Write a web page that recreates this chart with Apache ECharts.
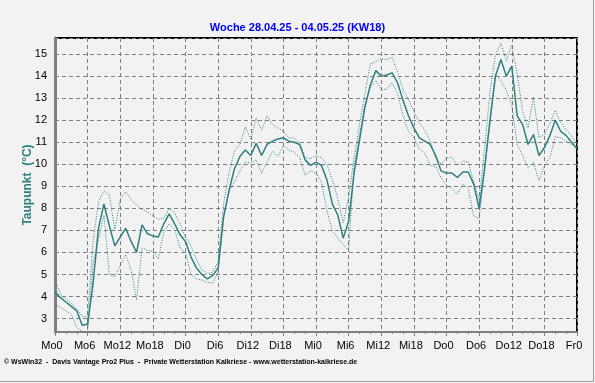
<!DOCTYPE html>
<html>
<head>
<meta charset="utf-8">
<script src="https://cdn.jsdelivr.net/npm/echarts@6/dist/echarts.min.js"></script>
<style>
html,body{margin:0;padding:0;background:#f2f2f2;}
#chart{width:595px;height:383px;}
</style>
</head>
<body>
<div id="chart"></div>
<script>
var titleText = 'Woche 28.04.25 - 04.05.25 (KW18)';
var yAxisName = 'Taupunkt  (°C)';
var footerText = '© WsWin32  -  Davis Vantage Pro2 Plus  -  Private Wetterstation Kalkriese - www.wetterstation-kalkriese.de';
var tickLabels = ['Mo0','Mo6','Mo12','Mo18','Di0','Di6','Di12','Di18','Mi0','Mi6','Mi12','Mi18','Do0','Do6','Do12','Do18','Fr0'];

// hourly values, Mo 0:00 .. Fr 0:00
var avgValues = [4.2,3.95,3.75,3.55,3.35,2.7,2.75,4.6,7.1,8.2,7.2,6.3,6.7,7.1,6.5,6.0,7.25,6.85,6.75,6.7,7.3,7.75,7.3,6.8,
  6.5,5.8,5.3,5.0,4.8,4.95,5.3,7.6,8.8,9.8,10.35,10.65,10.4,10.95,10.4,10.9,11.05,11.15,11.2,11.05,11.0,10.9,10.2,9.95,
  10.1,9.95,9.3,8.2,7.7,6.65,7.4,9.6,11.1,12.6,13.6,14.25,14.0,14.05,14.15,13.7,12.9,12.2,11.65,11.2,11.05,10.9,10.4,9.7,
  9.6,9.6,9.4,9.65,9.65,9.1,8.0,9.8,12.0,14.0,14.75,14.0,14.45,12.2,11.8,10.9,11.35,10.4,10.75,11.3,12.0,11.5,11.3,11.0,10.7];
var maxValues = [4.8,4.1,3.9,3.7,3.45,3.1,3.1,6.5,8.3,8.8,8.6,7.0,8.4,8.75,8.4,8.15,7.95,7.85,7.65,7.5,7.55,8.0,7.8,7.3,
  6.7,6.3,5.7,5.2,5.05,5.1,5.6,8.2,9.6,10.6,10.9,11.7,11.15,12.1,11.55,12.2,11.8,11.65,11.5,11.2,11.2,10.95,10.3,10.25,
  10.4,10.3,10.0,9.3,8.45,7.35,8.5,10.3,11.8,13.2,14.55,14.65,14.8,14.75,14.85,14.2,13.4,12.95,12.4,11.9,11.55,11.05,10.3,10.0,
  10.3,10.3,9.95,10.15,10.1,9.2,8.4,10.7,13.3,14.95,15.5,14.7,15.4,14.1,12.4,11.65,13.05,11.2,11.35,11.85,12.45,11.9,11.55,11.3,10.9];
var minValues = [3.65,3.5,3.35,3.2,2.6,2.4,2.4,5.5,6.6,7.7,5.0,4.9,5.4,5.9,5.2,3.85,6.2,6.1,6.05,5.7,6.9,7.3,7.05,6.2,
  6.0,5.0,4.8,4.75,4.65,4.6,5.1,7.6,8.8,9.2,9.7,10.1,10.05,10.2,9.6,10.1,10.6,10.35,10.85,10.65,10.55,10.3,9.5,9.7,
  9.6,9.2,7.9,7.0,6.65,6.35,6.1,9.9,11.3,12.7,13.5,13.8,13.4,13.4,13.7,13.2,12.2,11.5,11.2,10.7,10.5,9.95,9.9,9.4,
  9.05,8.9,8.65,9.1,8.9,7.65,7.55,9.7,11.9,14.1,13.8,13.35,12.7,10.9,10.4,9.85,10.1,9.25,9.95,10.3,11.25,11.2,11.05,10.9,10.75];

function pairs(arr){ return arr.map(function(v,i){ return [i, v]; }); }

var teal = '#2f8080';
var gridDash = [4,3];
var chart = echarts.init(document.getElementById('chart'), null, {renderer:'canvas'});
chart.setOption({
  backgroundColor:'#f2f2f2',
  animation:false,
  title:{
    text:titleText, left:'center', top:17,
    textStyle:{color:'#0000ff', fontSize:11, fontWeight:'bold', fontFamily:'Liberation Sans'}
  },
  grid:{left:55, right:18, top:38, bottom:51, show:true, borderColor:'#000', borderWidth:2, backgroundColor:'transparent'},
  xAxis:{
    type:'value', min:0, max:96, interval:6,
    axisLine:{show:true, onZero:false, lineStyle:{color:'#808080', width:2}},
    axisTick:{show:true, length:4, lineStyle:{color:'#808080'}},
    minorTick:{show:true, splitNumber:3, length:2, lineStyle:{color:'#808080'}},
    axisLabel:{color:'#000', fontSize:11, fontFamily:'Liberation Sans', margin:8, padding:[0,6,0,0],
      formatter:function(v){ return tickLabels[Math.round(v/6)]; }},
    splitLine:{show:true, lineStyle:{color:'#808080', type:gridDash, width:1}}
  },
  yAxis:{
    type:'value', min:2.39, max:15.73, splitNumber:13, minInterval:1, maxInterval:1,
    name:yAxisName, nameLocation:'middle', nameGap:21, nameRotate:90, nameMoveOverlap:false,
    nameTextStyle:{color:teal, fontSize:12, fontWeight:'bold', fontFamily:'Liberation Sans'},
    axisLine:{show:true, lineStyle:{color:'#808080', width:3}},
    axisTick:{show:false},
    axisLabel:{color:'#000', fontSize:11, fontFamily:'Liberation Sans', margin:8, showMinLabel:false, showMaxLabel:false},
    splitLine:{show:true, lineStyle:{color:'#808080', type:gridDash, width:1}}
  },
  series:[
    {type:'line', data:pairs(maxValues), showSymbol:false, lineStyle:{color:teal, width:1, type:[1,1.5]}, z:3},
    {type:'line', data:pairs(minValues), showSymbol:false, lineStyle:{color:teal, width:1, type:[1,1.5]}, z:3},
    {type:'line', data:pairs(avgValues), showSymbol:false, lineStyle:{color:teal, width:1.5}, z:4}
  ],
  graphic:[
    {type:'text', left:4, top:359, style:{text:footerText, fill:'#000', font:'bold 7px "Liberation Sans"'}},
    {type:'line', shape:{x1:0, y1:381.5, x2:594, y2:381.5}, style:{stroke:'#a0a0a0', lineWidth:1}},
    {type:'line', shape:{x1:593.5, y1:0, x2:593.5, y2:382}, style:{stroke:'#a0a0a0', lineWidth:1}}
  ]
});
</script>
</body>
</html>
